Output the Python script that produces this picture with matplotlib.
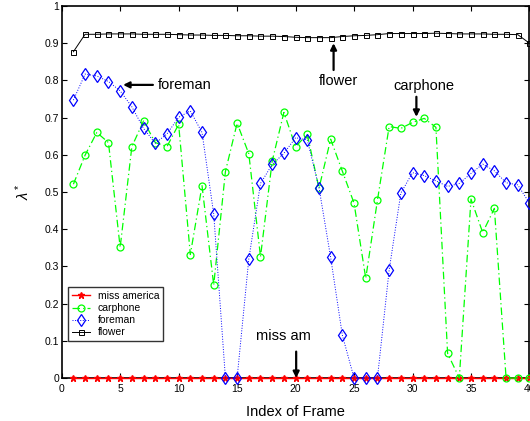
import numpy as np
import matplotlib.pyplot as plt

plt.rcParams['font.family'] = ['Liberation Sans', 'DejaVu Sans']
plt.rcParams['mathtext.fontset'] = 'custom'
plt.rcParams['mathtext.rm'] = 'Liberation Sans'
plt.rcParams['mathtext.it'] = 'Liberation Sans:italic'

frames = np.arange(1, 41)

miss_america = [0.0] * 40

carphone = [0.521, 0.599, 0.660, 0.633, 0.351, 0.622, 0.691, 0.633, 0.622, 0.682,
            0.332, 0.517, 0.250, 0.555, 0.685, 0.603, 0.326, 0.583, 0.714, 0.622,
            0.655, 0.510, 0.642, 0.556, 0.470, 0.268, 0.478, 0.676, 0.671, 0.687,
            0.698, 0.674, 0.066, 0.0, 0.481, 0.391, 0.456, 0.0, 0.0, 0.0]

foreman = [0.747, 0.817, 0.812, 0.797, 0.772, 0.729, 0.671, 0.631, 0.656, 0.701,
           0.718, 0.660, 0.441, 0.0, 0.0, 0.320, 0.523, 0.574, 0.604, 0.646,
           0.640, 0.512, 0.324, 0.115, 0.0, 0.0, 0.0, 0.290, 0.497, 0.552,
           0.544, 0.530, 0.515, 0.523, 0.550, 0.575, 0.557, 0.525, 0.519, 0.470]

flower = [0.877, 0.924, 0.924, 0.925, 0.925, 0.925, 0.924, 0.924, 0.924, 0.923,
          0.922, 0.922, 0.921, 0.921, 0.920, 0.920, 0.919, 0.919, 0.918, 0.916,
          0.915, 0.915, 0.915, 0.918, 0.920, 0.921, 0.923, 0.926, 0.926, 0.926,
          0.926, 0.927, 0.926, 0.925, 0.925, 0.925, 0.924, 0.924, 0.923, 0.900]

names = ['miss america', 'carphone', 'foreman', 'flower']

fig = plt.figure(figsize=(5.3, 4.21), dpi=100)
ax = fig.add_axes([0.1164, 0.1021, 0.8826, 0.8836])

# miss america sits on the x axis, so darken it a bit like the overlap in the original
ax.plot(frames, miss_america, color='#ff0000', linestyle='-', lw=1.0, marker='*',
        markersize=5, label=names[0], clip_on=False, zorder=3)
ax.plot(frames, carphone, color='#00ff00', linestyle=(0, (6, 2.5, 1, 2.5)), lw=0.9, marker='o',
        markersize=5, markerfacecolor='none', markeredgewidth=0.9, label=names[1],
        clip_on=False, zorder=3)
ax.plot(frames, foreman, color='#0000ff', linestyle=':', lw=0.7, marker='d',
        markersize=6, markerfacecolor='none', markeredgewidth=0.9, label=names[2],
        clip_on=False, zorder=3)
ax.plot(frames, flower, color='k', linestyle='-', lw=0.7, marker='s',
        markersize=3.6, markerfacecolor='none', markeredgewidth=0.7, label=names[3],
        clip_on=False, zorder=3)

ax.set_xlim(0, 40)
ax.set_ylim(0, 1)
ax.set_xticks(np.arange(0, 41, 5))
ax.set_yticks(np.arange(0, 1.01, 0.1))
ax.set_yticklabels(['0', '0.1', '0.2', '0.3', '0.4', '0.5', '0.6', '0.7', '0.8', '0.9', '1'])
ax.tick_params(direction='in', length=3.5, width=0.8, top=True, right=True,
               labelsize=7.5, pad=2)
ax.tick_params(axis='x', pad=4)
for s in ax.spines.values():
    s.set_linewidth(1.2)

ax.set_xlabel('Index of Frame', fontsize=10.5, labelpad=8)
ax.set_ylabel(r'$\lambda^*$', fontsize=10.5, labelpad=9)

arrow = dict(arrowstyle='-|>', color='k', lw=1.6, mutation_scale=9, shrinkA=0, shrinkB=0)
ax.annotate('', xy=(5.25, 0.788), xytext=(7.8, 0.788), arrowprops=arrow)
ax.text(8.2, 0.788, 'foreman', fontsize=10.5, ha='left', va='center')
ax.annotate('', xy=(23.25, 0.900), xytext=(23.25, 0.828), arrowprops=arrow)
ax.text(23.7, 0.798, 'flower', fontsize=10.5, ha='center', va='center')
ax.annotate('', xy=(30.33, 0.702), xytext=(30.33, 0.756), arrowprops=arrow)
ax.text(31.0, 0.785, 'carphone', fontsize=10.5, ha='center', va='center')
ax.annotate('', xy=(20.05, 0.0), xytext=(20.05, 0.071), arrowprops=arrow)
ax.text(18.95, 0.113, 'miss am', fontsize=10.5, ha='center', va='center')

leg = ax.legend(loc='lower left', bbox_to_anchor=(0.0141, 0.0995), borderaxespad=0,
                fontsize=7.5, frameon=True, fancybox=False, edgecolor='k',
                handlelength=1.7, handletextpad=0.8, labelspacing=0.2, borderpad=0.35)
leg.get_frame().set_linewidth(1.0)
leg.set_zorder(5)

fig.savefig('out.png', dpi=100)
